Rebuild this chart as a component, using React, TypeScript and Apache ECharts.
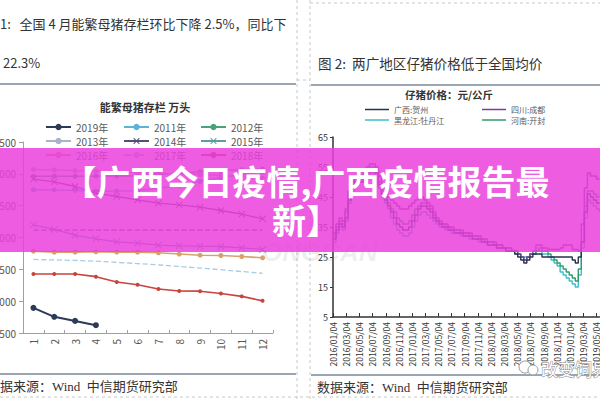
import React, { useEffect, useRef } from 'react';
import * as echarts from 'echarts';

// ---------- Left chart: 能繁母猪存栏 万头 ----------
const months = ['1', '2', '3', '4', '5', '6', '7', '8', '9', '10', '11', '12'];
const sow2019 = [2895, 2754, 2690, 2623];
const sow2011 = [4750, 4748, 4740, 4727, 4727, 4735, 4770, 4820, 4880, 4940, 4990, 5030];
const sow2012 = [4962, 4962, 4962, 4965, 4965, 4970, 4990, 5010, 5030, 5050, 5065, 5075];
const sow2013 = [5068, 5062, 5050, 5042, 5030, 5020, 5010, 5000, 4990, 4975, 4955, 4930];
const sow2014 = [4917, 4874, 4801, 4697, 4644, 4592, 4540, 4513, 4477, 4424, 4367, 4294];
const sow2015 = [4199, 4126, 4036, 3979, 3932, 3911, 3879, 3870, 3864, 3859, 3838, 3812];
const sow2016 = [3785, 3770, 3770, 3775, 3770, 3770, 3760, 3740, 3722, 3717, 3702, 3681];
const sow2017 = [3655, 3648, 3640, 3628, 3610, 3590, 3570, 3545, 3520, 3495, 3465, 3438];
const sow2018 = [3426, 3426, 3426, 3385, 3300, 3259, 3190, 3160, 3157, 3120, 3075, 3005];
const sowGuide = [4115, 4115, 4115, 4115, 4115, 4115, 4115, 4115, 4115, 4115, 4115, 4115];

// ---------- Right chart: 仔猪价格 元/公斤 (bi-weekly readings) ----------
const gxHezhou = [
  31, 34, 36, 35, 38, 44, 48, 50, 51, 50, 52,
  53, 54, 54, 53, 49, 46, 44, 42, 40, 38,
  36, 35, 34, 34, 35, 37, 39, 41, 42, 42,
  41, 40, 38, 37, 36, 35, 35, 34, 34, 33,
  33, 33, 32, 32, 32, 31, 31, 31, 30, 30,
  29, 29, 29, 28, 28, 28, 27, 27, 27, 26,
  25, 24, 23, 24, 25, 26, 26, 26, 25, 25,
  25, 25, 25, 25, 25, 25, 25, 25, 24, 23,
  25, 30, 40, 46, 45, 44, 43, 43,
];
const scChengdu = [
  33, 36, 38, 37, 41, 47, 50, 52, 53, 52, 54,
  55, 56, 56, 55, 52, 49, 47, 45, 44, 43,
  42, 41, 41, 41, 42, 43, 44, 45, 45, 44,
  43, 42, 40, 38, 37, 36, 36, 35, 35, 34,
  34, 34, 33, 33, 33, 32, 32, 32, 31, 31,
  30, 30, 30, 29, 29, 28, 28, 28, 27, 27,
  26, 25, 24, 25, 26, 27, 29, 29, 28, 28,
  27.5, 27.5, 27.5, 27.5, 28, 29, 29, 29, 27.5, 27.5,
  27, 36, 48, 53, 52, 52, 51, 51,
];
const hljMudanjiang = [
  30, 33, 35, 34, 37, 43, 47, 49, 50, 50, 51,
  52, 53, 53, 52, 48, 45, 43, 41, 38, 36,
  34, 33, 32, 32, 33, 35, 37, 39, 40, 40,
  39, 38, 37, 36, 35, 35, 34, 34, 33, 33,
  33, 32, 32, 32, 31, 31, 31, 30, 30, 30,
  29, 29, 29, 28, 28, 28, 27, 27, 27, 26,
  26, 25, 25, 25, 26, 26, 27, 27, 26, 26,
  25, 24, 23, 22, 20, 19, 18, 17, 16, 15,
  19, 28, 38, 44, 43, 42, 41, 40,
];
const hnKaifeng = [
  32, 35, 37, 36, 40, 46, 49, 51, 52, 51, 53,
  54, 55, 55, 54, 50, 47, 45, 43, 41, 40,
  38, 37, 36, 36, 37, 39, 41, 42, 43, 43,
  42, 41, 39, 37, 36, 36, 35, 35, 34, 34,
  34, 33, 33, 33, 32, 32, 32, 31, 31, 30,
  30, 30, 29, 29, 29, 28, 28, 28, 27, 27,
  26, 25, 24, 25, 26, 26, 27, 28, 27, 27,
  26, 25, 24, 23, 22, 21, 20, 19, 18, 17,
  21, 30, 42, 47, 47, 46, 45, 45,
];

// daily category axis 2016/01/04 .. 2019/05/20
const dayCats: string[] = [];
{
  const start = Date.UTC(2016, 0, 4);
  for (let i = 0; i <= 1232; i++) {
    const d = new Date(start + i * 86400000);
    dayCats.push(
      `${d.getUTCFullYear()}/${String(d.getUTCMonth() + 1).padStart(2, '0')}/${String(d.getUTCDate()).padStart(2, '0')}`
    );
  }
}
const sampleDates = dayCats.filter((_, i) => i % 14 === 0);
const toPairs = (vals: number[]) => vals.map((v, k) => [sampleDates[k], v]);
const isLabelDay = (_: number, value: string) =>
  value.slice(8) === '04' && parseInt(value.slice(5, 7), 10) % 2 === 1;

const X_SYMBOL = 'path://M0,1L1,0L5,4L9,0L10,1L6,5L10,9L9,10L5,6L1,10L0,9L4,5Z';
const CJK = "'Noto Sans CJK SC', 'Noto Sans', sans-serif";

function leftLine(name: string, data: number[], color: string, opts: any = {}) {
  return {
    name,
    type: 'line',
    xAxisIndex: 0,
    yAxisIndex: 0,
    data,
    symbol: opts.symbol ?? 'circle',
    symbolSize: opts.symbolSize ?? 5,
    lineStyle: { color, width: opts.width ?? 1.3, type: opts.dash ? 'dashed' : 'solid' },
    itemStyle: { color },
    z: opts.z ?? 3,
  };
}

function rightLine(name: string, vals: number[], color: string) {
  return {
    name,
    type: 'line',
    xAxisIndex: 1,
    yAxisIndex: 1,
    data: toPairs(vals),
    step: 'end',
    symbol: 'none',
    lineStyle: { color, width: 1.4 },
    itemStyle: { color },
  };
}

export default function App() {
  const ref = useRef<HTMLDivElement>(null);
  useEffect(() => {
    if (!ref.current) return;
    const chart = echarts.init(ref.current, undefined, { renderer: 'svg' });
    const legendText = { fontSize: 10, color: '#595959', lineHeight: 12, fontFamily: CJK };
    const legendTextR = { fontSize: 8, color: '#595959', lineHeight: 9, fontFamily: CJK };
    const sep = '#9aa6b2';
    const dash = '#c8c8c8';
    const leftLegend = { orient: 'vertical', top: 121, padding: 0, itemWidth: 25, itemHeight: 8, itemGap: 2, textStyle: legendText };
    const rightLegend = { orient: 'vertical', top: 105, padding: 0, icon: 'rect', itemWidth: 24, itemHeight: 1.5, itemGap: 1.5, textStyle: legendTextR };
    chart.setOption({
      animation: false,
      backgroundColor: '#ffffff',
      textStyle: { fontFamily: CJK },
      grid: [
        { left: 23, top: 142, right: 327, bottom: 67, containLabel: false, outerBoundsMode: 'none' },
        { left: 333, top: 137, right: 0.5, bottom: 83, containLabel: false, outerBoundsMode: 'none' },
      ],
      xAxis: [
        {
          gridIndex: 0,
          type: 'category',
          data: months,
          boundaryGap: true,
          axisLine: { show: true, lineStyle: { color: '#a0a0a0', width: 1 } },
          axisTick: { show: true, inside: true, length: 3, lineStyle: { color: '#a0a0a0' } },
          axisLabel: { rotate: 90, fontSize: 10, color: '#555', margin: 6 },
          splitLine: { show: false },
        },
        {
          gridIndex: 1,
          type: 'category',
          data: dayCats,
          boundaryGap: false,
          axisLine: { show: true, lineStyle: { color: '#333', width: 1.5 } },
          axisTick: { show: true, inside: true, length: 4, interval: isLabelDay, lineStyle: { color: '#333' } },
          axisLabel: { rotate: 90, fontSize: 8.5, color: '#333', margin: 5, interval: isLabelDay },
          splitLine: { show: false },
        },
      ],
      yAxis: [
        {
          gridIndex: 0,
          type: 'value',
          min: 2500,
          max: 5500,
          interval: 500,
          axisLine: { show: true, lineStyle: { color: '#a0a0a0' } },
          axisTick: { show: true, length: 4, lineStyle: { color: '#a0a0a0' } },
          axisLabel: { fontSize: 10, color: '#555', margin: 7 },
          splitLine: { show: false },
        },
        {
          gridIndex: 1,
          type: 'value',
          min: 5,
          max: 65,
          interval: 10,
          axisLine: { show: true, lineStyle: { color: '#333', width: 1.5 } },
          axisTick: { show: true, length: 3, lineStyle: { color: '#333' } },
          axisLabel: { fontSize: 9, color: '#333', margin: 5 },
          splitLine: { show: false },
        },
      ],
      legend: [
        { ...leftLegend, data: ['2019年', '2013年', '2016年'], left: 45 },
        { ...leftLegend, data: ['2011年', '2014年', '2017年'], left: 123 },
        { ...leftLegend, data: ['2012年', '2015年', '2018年'], left: 200 },
        { ...rightLegend, data: ['广西:贺州', '黑龙江:牡丹江'], left: 365 },
        { ...rightLegend, data: ['四川:成都', '河南:开封'], left: 482 },
      ],
      series: [
        leftLine('2011年', sow2011, '#5ab4d6'),
        leftLine('2012年', sow2012, '#4aa37a'),
        leftLine('2013年', sow2013, '#a8b4c8'),
        leftLine('2014年', sow2014, '#55506e', { symbol: X_SYMBOL, symbolSize: 7 }),
        leftLine('2015年', sow2015, '#5b9ea3', { symbol: X_SYMBOL, symbolSize: 7 }),
        leftLine('2016年', sow2016, '#d9a06c', { width: 1.6 }),
        leftLine('2017年', sow2017, '#a9cbe3', { symbol: 'none', dash: true }),
        leftLine('', sowGuide, '#7a3c9a', { symbol: 'none', dash: true }),
        leftLine('2018年', sow2018, '#c9443f', { width: 1.6, symbolSize: 4 }),
        leftLine('2019年', sow2019, '#2c3a57', { width: 2, symbolSize: 6, z: 4 }),
        rightLine('黑龙江:牡丹江', hljMudanjiang, '#3dbfcf'),
        rightLine('河南:开封', hnKaifeng, '#2e9e6a'),
        rightLine('四川:成都', scChengdu, '#7b3f98'),
        rightLine('广西:贺州', gxHezhou, '#2a3150'),
      ],
      graphic: [
        // panel borders (dashed)
        { type: 'line', shape: { x1: 297, y1: 0, x2: 297, y2: 400 }, style: { stroke: dash, lineWidth: 1, lineDash: [3, 3] } },
        { type: 'line', shape: { x1: 310, y1: 0, x2: 310, y2: 400 }, style: { stroke: dash, lineWidth: 1, lineDash: [3, 3] } },
        { type: 'line', shape: { x1: 310, y1: 3, x2: 600, y2: 3 }, style: { stroke: dash, lineWidth: 1, lineDash: [3, 3] } },
        { type: 'line', shape: { x1: 0, y1: 397, x2: 600, y2: 397 }, style: { stroke: dash, lineWidth: 1, lineDash: [3, 3] } },
        { type: 'line', shape: { x1: 297, y1: 80, x2: 310, y2: 80 }, style: { stroke: dash, lineWidth: 1, lineDash: [3, 3] } },
        // separators
        { type: 'line', shape: { x1: 0, y1: 84, x2: 296, y2: 84 }, style: { stroke: sep, lineWidth: 2 } },
        { type: 'line', shape: { x1: 311, y1: 85, x2: 600, y2: 85 }, style: { stroke: sep, lineWidth: 2 } },
        { type: 'line', shape: { x1: 0, y1: 374, x2: 296, y2: 374 }, style: { stroke: sep, lineWidth: 2 } },
        { type: 'line', shape: { x1: 311, y1: 375, x2: 600, y2: 375 }, style: { stroke: sep, lineWidth: 2 } },
        // headers
        { type: 'text', x: 0, y: 23, style: { text: '1:   全国 4 月能繁母猪存栏环比下降 2.5%，同比下', fill: '#333', fontSize: 13, fontFamily: CJK, verticalAlign: 'middle' } },
        { type: 'text', x: 3, y: 62, style: { text: '22.3%', fill: '#333', fontSize: 13, fontFamily: CJK, verticalAlign: 'middle' } },
        { type: 'text', x: 318, y: 63, style: { text: '图 2:  两广地区仔猪价格低于全国均价', fill: '#333', fontSize: 13.6, fontFamily: CJK, verticalAlign: 'middle' } },
        { type: 'text', x: 145, y: 107, style: { text: '能繁母猪存栏 万头', fill: '#333', fontSize: 11, fontWeight: 'bold', fontFamily: CJK, align: 'center', verticalAlign: 'middle' } },
        { type: 'text', x: 449, y: 94, style: { text: '仔猪价格：元/公斤', fill: '#333', fontSize: 10.5, fontWeight: 'bold', fontFamily: CJK, align: 'center', verticalAlign: 'middle' } },
        // sources
        { type: 'text', x: 0, y: 386, style: { text: '据来源：Wind  中信期货研究部', fill: '#333', fontSize: 13, fontFamily: "'Liberation Serif', 'Noto Sans CJK SC', serif", verticalAlign: 'middle' } },
        { type: 'text', x: 317, y: 387, style: { text: '数据来源：Wind  中信期货研究部', fill: '#333', fontSize: 13, fontFamily: "'Liberation Serif', 'Noto Sans CJK SC', serif", verticalAlign: 'middle' } },
        // faint watermarks
        { type: 'text', x: 262, y: 252, z: 50, style: { text: 'ONGCAN', fill: 'rgba(120,120,120,0.13)', fontSize: 26, fontStyle: 'italic', fontWeight: 'bold', fontFamily: "'Liberation Sans', sans-serif", verticalAlign: 'middle' } },
        { type: 'circle', z: 50, shape: { cx: 525, cy: 367, r: 6 }, style: { fill: '#fff', stroke: '#999', lineWidth: 1 } },
        { type: 'circle', z: 50, shape: { cx: 533, cy: 370, r: 5 }, style: { fill: '#fff', stroke: '#999', lineWidth: 1 } },
        { type: 'text', x: 541, y: 368, z: 50, style: { text: '改变饲界', fill: '#fff', stroke: '#8a8a8a', lineWidth: 1, fontSize: 17, fontFamily: CJK, verticalAlign: 'middle' } },
        // pink banner
        { type: 'rect', z: 100, shape: { x: 0, y: 148, width: 600, height: 104 }, style: { fill: 'rgba(234,64,220,0.85)' } },
        { type: 'text', x: 306, y: 200, z: 101, style: { text: '【广西今日疫情,广西疫情报告最\n新】', fill: '#ffffff', fontSize: 34, fontWeight: 'bold', fontFamily: CJK, align: 'center', verticalAlign: 'middle', lineHeight: 39 } },
      ],
    });
    return () => chart.dispose();
  }, []);
  return <div ref={ref} style={{ position: 'fixed', left: 0, top: 0, width: 600, height: 400 }} />;
}
